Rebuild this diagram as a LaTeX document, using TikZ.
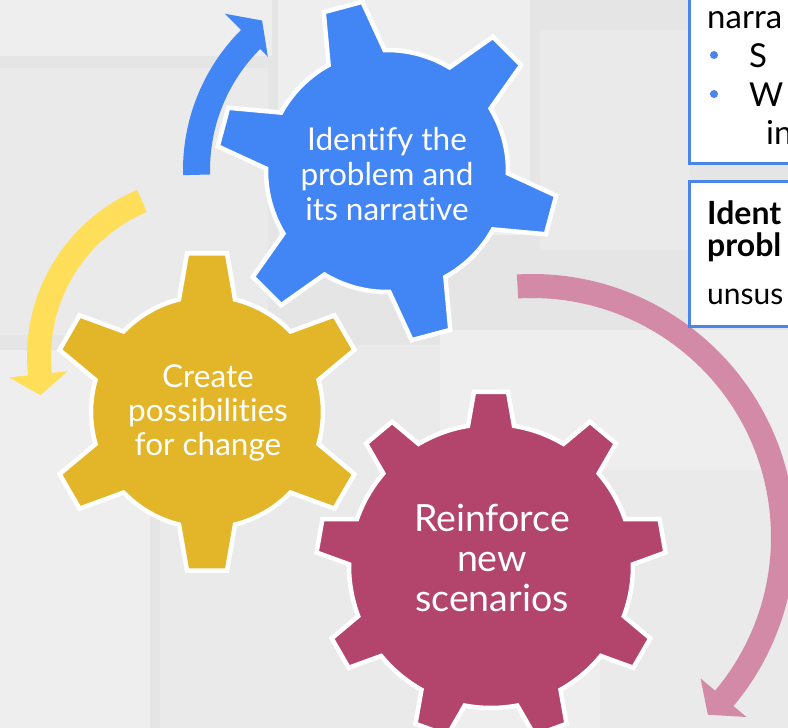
\documentclass[tikz,border=0pt]{standalone}
\usepackage{fontspec}
\setmainfont{Lato}[Ligatures=NoCommon]
\definecolor{gblue}{RGB}{66,133,244}
\definecolor{ggold}{RGB}{227,181,41}
\definecolor{gmag}{RGB}{179,68,108}
\definecolor{ayellow}{RGB}{255,222,89}
\definecolor{apink}{RGB}{211,138,166}
\definecolor{boxblue}{RGB}{74,134,232}
\definecolor{bgbase}{RGB}{229,229,229}
\definecolor{bgpage}{RGB}{238,238,238}
\definecolor{bgpage2}{RGB}{234,234,234}
\tikzset{
  gearline/.style={draw=white,line width=4.5pt,line join=miter},
  geartext/.style={text=white,align=center,inner sep=0pt},
  infobox/.style={fill=white,draw=boxblue,line width=3pt},
  infotext/.style={text=black,anchor=base west,inner sep=0pt,font=\fontsize{33}{38}\selectfont},
  infobold/.style={infotext,font=\bfseries\fontsize{32}{38}\selectfont},
  bulletdot/.style={fill=boxblue,draw=none}
}
% #1 cx, #2 cy, #3 teeth, #4 start angle, #5 tip radius, #6 root radius, #7 tip half width, #8 base half width, #9 colour
\newcommand{\drawgear}[9]{%
  \begin{scope}[shift={(#1,#2)}]
    \pgfmathsetmacro{\gstep}{360/#3}
    \pgfmathsetmacro{\gat}{asin(#7/#5)}
    \pgfmathsetmacro{\gab}{asin(#8/#6)}
    \pgfmathtruncatemacro{\glast}{#3-1}
    \filldraw[fill=#9,gearline] ({#4-\gab}:#6)
      \foreach \k in {0,...,\glast}{
        -- ({#4+\k*\gstep-\gat}:#5) -- ({#4+\k*\gstep+\gat}:#5)
        -- ({#4+\k*\gstep+\gab}:#6)
        arc[start angle={#4+\k*\gstep+\gab},end angle={#4+(\k+1)*\gstep-\gab},radius=#6]
      } -- cycle;
  \end{scope}}
\begin{document}
\begin{tikzpicture}[x=1pt,y=-1pt]
\useasboundingbox (0,0) rectangle (788,728);
% background (faded book pages)
\fill[bgbase] (0,0) rectangle (788,728);
\fill[bgpage] (0,0) rectangle (272,56);
\fill[bgpage2] (0,68) rectangle (268,335);
\fill[bgpage] (278,0) rectangle (530,235);
\fill[bgpage2] (540,30) rectangle (690,250);
\fill[bgpage] (0,350) rectangle (150,728);
\fill[bgpage2] (160,345) rectangle (440,728);
\fill[bgpage] (440,330) rectangle (788,470);
\fill[bgpage2] (600,470) rectangle (788,728);
\fill[bgpage] (450,480) rectangle (600,728);

% arrows
\begin{scope}[shift={(381,170)}]
  \fill[gblue] (178.5:198) arc[start angle=178.5,end angle=225,radius=198]
    -- (225:221) -- (231.5:191) -- (225:160) -- (225:171)
    arc[start angle=225,end angle=178.5,radius=171] -- cycle;
\end{scope}
\begin{scope}[shift={(208,356.5)}]
  \fill[ayellow] (247:181) arc[start angle=247,end angle=174,radius=181]
    -- (174:200) -- (167:172) -- (174:141) -- (174:157)
    arc[start angle=174,end angle=247,radius=157] -- cycle;
\end{scope}
\begin{scope}[shift={(532,537)}]
  \fill[apink] (-93.3:263) arc[start angle=-93.3,end angle=40,radius=263]
    -- (40:280) -- (45.3:250) -- (40:220) -- (40:239)
    arc[start angle=40,end angle=-93.3,radius=239] -- cycle;
\end{scope}

% gears
\drawgear{207}{412}{6}{90}{160}{116}{20}{28}{ggold}
\drawgear{387}{171}{6}{15}{171}{121}{20}{29}{gblue}
\drawgear{491}{566}{9}{30}{175}{142}{17}{23}{gmag}

\node[geartext,font=\fontsize{31.5}{35}\selectfont] (identify) at (387,174) {Identify the\\problem and\\its narrative};
\node[geartext,font=\fontsize{31.5}{34}\selectfont] (create) at (208,413) {Create\\possibilities\\for change};
\node[geartext,font=\fontsize{37.5}{40}\selectfont] (reinforce) at (492,558) {Reinforce\\new\\scenarios};

% info boxes (cut by the right edge)
\draw[infobox] (689,-10) rectangle (805,163);
\draw[infobox] (689,181) rectangle (805,326);
\node[infotext] (narra) at (707,28) {narra};
\fill[bulletdot] (714,55) circle[radius=4];
\node[infotext] (s) at (749,67) {S};
\fill[bulletdot] (714,94) circle[radius=4];
\node[infotext] (w) at (749,106) {W};
\node[infotext] (in) at (766,144) {in};
\node[infobold] (ident) at (707,224) {Ident};
\node[infobold] (probl) at (707,256) {probl};
\node[infotext,font=\fontsize{30}{36}\selectfont] (unsus) at (707,304) {unsus};
\end{tikzpicture}
\end{document}
